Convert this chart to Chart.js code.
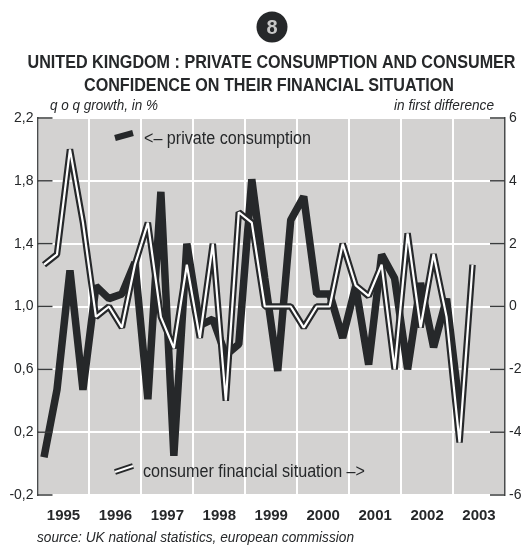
<!DOCTYPE html>
<html>
<head>
<meta charset="utf-8">
<title>United Kingdom</title>
<script src="https://cdn.jsdelivr.net/npm/chart.js@4/dist/chart.umd.min.js"></script>
<style>
  html, body { margin: 0; padding: 0; background: #fff; }
  canvas { display: block; }
</style>
</head>
<body>
<canvas id="ukChart" width="521" height="548"></canvas>
<script>
var years = ["1995", "1996", "1997", "1998", "1999", "2000", "2001", "2002", "2003"];
var leftTicks = ["-0,2", "0,2", "0,6", "1,0", "1,4", "1,8", "2,2"];

// one value per quarter, q1 1995 onwards
var privateConsumption = [0.04, 0.47, 1.23, 0.47, 1.13, 1.05, 1.08, 1.28, 0.41, 1.73, 0.05, 1.4,
  0.88, 0.92, 0.69, 0.76, 1.81, 1.18, 0.59, 1.55, 1.7, 1.08, 1.08, 0.8,
  1.13, 0.63, 1.33, 1.18, 0.6, 1.15, 0.74, 1.05, 0.35];
var consumerSituation = [1.33, 1.66, 5, 2.67, -0.33, 0, -0.67, 1.33, 2.67, -0.33, -1.33, 1.33,
  -1, 2, -3, 3, 2.67, 0, 0, 0, -0.67, 0, 0, 2,
  0.67, 0.33, 1.33, -2, 2.33, -0.67, 1.67, -0.33, -4.33, 1.33];

var titleLines = ["UNITED KINGDOM : PRIVATE CONSUMPTION AND CONSUMER", "CONFIDENCE ON THEIR FINANCIAL SITUATION"];
var leftUnit = "q o q growth, in %";
var rightUnit = "in first difference";
var sourceText = "source: UK national statistics, european commission";
var privateLabel = "<\u2013 private consumption";
var consumerLabel = "consumer financial situation \u2013>";

var INK = "#26282a";
var SANS = "'Liberation Sans', Arial, sans-serif";

function toPoints(values) {
  return values.map(function (v, i) { return { x: i + 0.5, y: v }; });
}

// background, ticks that point inwards and all the loose text
var decorations = {
  id: "decorations",
  beforeDraw: function (chart) {
    var a = chart.chartArea, c = chart.ctx;
    c.save();
    c.fillStyle = "#d3d2d1";
    c.fillRect(a.left, a.top, a.width, a.height);
    c.restore();
  },
  afterDraw: function (chart) {
    var a = chart.chartArea, c = chart.ctx;
    c.save();

    // inward ticks
    c.strokeStyle = "#3a3c3d";
    c.lineWidth = 1.5;
    chart.scales.y.ticks.forEach(function (t) {
      var py = chart.scales.y.getPixelForValue(t.value);
      c.beginPath(); c.moveTo(a.left, py); c.lineTo(a.left + 15, py); c.stroke();
    });
    chart.scales.y1.ticks.forEach(function (t) {
      var py = chart.scales.y1.getPixelForValue(t.value);
      c.beginPath(); c.moveTo(a.right - 15, py); c.lineTo(a.right, py); c.stroke();
    });

    // badge
    c.fillStyle = INK;
    c.beginPath(); c.arc(272, 27, 15.5, 0, Math.PI * 2); c.fill();
    c.fillStyle = "#c8c8c8";
    c.font = "bold 20px " + SANS;
    c.textAlign = "center";
    c.textBaseline = "middle";
    c.fillText("8", 272, 28);

    // title
    c.fillStyle = INK;
    c.textBaseline = "alphabetic";
    c.font = "bold 18px " + SANS;
    c.fillText(titleLines[0], 271.5, 68, 488);
    c.fillText(titleLines[1], 269, 91, 370);

    // units and source
    c.font = "italic 14.5px " + SANS;
    c.textAlign = "left";
    c.fillText(leftUnit, 50, 110, 108);
    c.textAlign = "right";
    c.fillText(rightUnit, 494, 110, 100);
    c.textAlign = "left";
    c.fillText(sourceText, 37, 542, 317);

    // legend
    c.font = "17.5px " + SANS;
    c.fillText(privateLabel, 144, 144, 167);
    c.fillText(consumerLabel, 143, 477, 222);
    c.lineCap = "butt";
    c.strokeStyle = INK;
    c.lineWidth = 6;
    c.beginPath(); c.moveTo(115, 138); c.lineTo(133, 133); c.stroke();
    c.lineWidth = 6;
    c.beginPath(); c.moveTo(115, 472); c.lineTo(133, 466); c.stroke();
    c.strokeStyle = "#ffffff";
    c.lineWidth = 2;
    c.beginPath(); c.moveTo(115, 472); c.lineTo(133, 466); c.stroke();
    c.restore();
  }
};

var ctx = document.getElementById("ukChart").getContext("2d");
var myChart = new Chart(ctx, {
  type: "line",
  data: {
    datasets: [
      { label: "private consumption", data: toPoints(privateConsumption), yAxisID: "y",
        borderColor: INK, borderWidth: 7.5, order: 3 },
      { label: "consumer financial situation", data: toPoints(consumerSituation), yAxisID: "y1",
        borderColor: INK, borderWidth: 6.5, order: 2 },
      { label: "consumer financial situation (core)", data: toPoints(consumerSituation), yAxisID: "y1",
        borderColor: "#ffffff", borderWidth: 2.2, order: 1 }
    ]
  },
  options: {
    responsive: false,
    animation: false,
    layout: { padding: { top: 118, bottom: 0, left: 0, right: 0 } },
    elements: {
      point: { radius: 0 },
      line: { tension: 0, borderJoinStyle: "bevel", borderCapStyle: "butt" }
    },
    plugins: {
      legend: { display: false },
      title: { display: false },
      tooltip: { enabled: false }
    },
    scales: {
      x: {
        type: "linear",
        min: 0,
        max: 36,
        afterFit: function (s) { s.height = 53; },
        border: { display: false },
        grid: {
          drawTicks: false,
          lineWidth: 2,
          color: function (c) { return c.tick && c.tick.value % 4 === 0 ? "#ffffff" : "rgba(0,0,0,0)"; }
        },
        ticks: {
          stepSize: 2,
          autoSkip: false,
          maxRotation: 0,
          padding: 12,
          color: INK,
          font: { family: SANS, size: 15, weight: "bold" },
          callback: function (v) { return v % 4 === 2 ? years[(v - 2) / 4] : ""; }
        }
      },
      y: {
        position: "left",
        min: -0.2,
        max: 2.2,
        afterFit: function (s) { s.width = 37.5; },
        border: { display: true, color: "#4a4c4d", width: 1.5 },
        grid: { drawTicks: false, lineWidth: 2, color: "#ffffff" },
        ticks: {
          stepSize: 0.4,
          padding: 4,
          color: INK,
          font: { family: SANS, size: 14 },
          callback: function (v, i) { return leftTicks[i]; }
        }
      },
      y1: {
        position: "right",
        min: -6,
        max: 6,
        afterFit: function (s) { s.width = 16; },
        border: { display: true, color: "#4a4c4d", width: 1.5 },
        grid: { display: false, drawTicks: false },
        ticks: {
          stepSize: 2,
          padding: 4,
          color: INK,
          font: { family: SANS, size: 14 }
        }
      }
    }
  },
  plugins: [decorations]
});
</script>
</body>
</html>
